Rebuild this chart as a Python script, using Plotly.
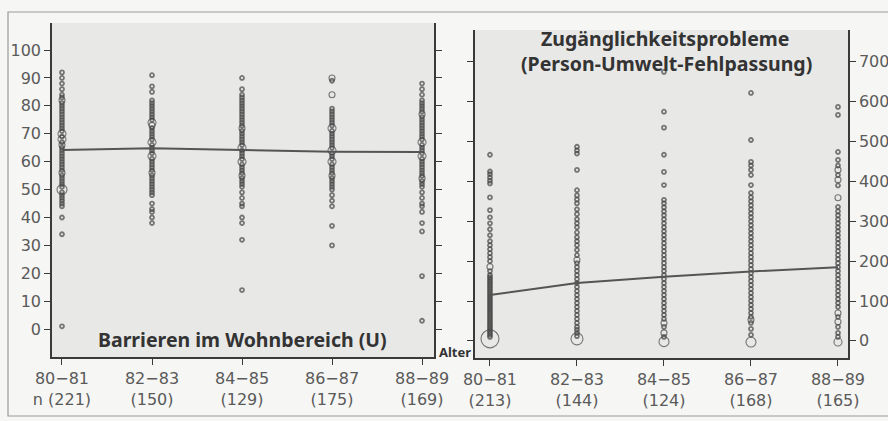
import plotly.graph_objects as go

W, H = 888, 421

# ---------------- data ----------------
categories = ["80−81", "82−83", "84−85", "86−87", "88−89"]
n_barrieren = ["n (221)", "(150)", "(129)", "(175)", "(169)"]
n_zugang = ["(213)", "(144)", "(124)", "(168)", "(165)"]

mean_barrieren = [64.2, 64.8, 64.2, 63.6, 63.5]
mean_zugang = [115, 145, 161, 174, 185]

# Barrieren im Wohnbereich (U): single observations per age group
barr_80_81 = [92, 90, 88, 86, 84, 83, 82, 81, 80, 79, 78, 77, 76, 75, 74, 73, 72, 71, 70, 69, 68, 67, 66,
              65, 64, 63, 62, 61, 60, 59, 58, 57, 56, 55, 54, 53, 52, 51, 50, 49, 48, 47, 46, 45, 44, 40, 34, 1]
barr_82_83 = [91, 87, 85, 82, 81, 80, 79, 78, 77, 76, 75, 74, 73, 72, 71, 70, 69, 68, 67, 66, 65, 64, 63,
              62, 61, 60, 59, 58, 57, 56, 55, 54, 53, 52, 51, 50, 49, 48, 45, 43, 42, 40, 38]
barr_84_85 = [90, 86, 84, 83, 82, 81, 80, 79, 78, 77, 76, 75, 74, 73, 72, 71, 70, 69, 68, 67, 66, 65, 64,
              63, 62, 61, 60, 59, 58, 57, 56, 55, 54, 53, 52, 51, 49, 47, 45, 44, 40, 38, 32, 14]
barr_86_87 = [90, 89, 84, 79, 78, 77, 76, 75, 74, 73, 72, 71, 70, 69, 68, 67, 66, 65, 64, 63, 62, 61, 60,
              59, 58, 57, 56, 55, 54, 53, 52, 51, 50, 48, 46, 44, 37, 30]
barr_88_89 = [88, 86, 84, 82, 81, 80, 79, 78, 77, 76, 75, 74, 73, 72, 71, 70, 69, 68, 67, 66, 65, 64, 63,
              62, 61, 60, 59, 58, 57, 56, 55, 54, 53, 52, 51, 49, 47, 45, 44, 42, 38, 35, 19, 3]
# (value, frequency) for the larger circles
barr_80_81_freq = [(82, 2), (70, 3), (68, 3), (66, 2), (56, 2), (50, 4)]
barr_82_83_freq = [(74, 3), (73, 2), (67, 3), (62, 3), (56, 2)]
barr_84_85_freq = [(72, 2), (65, 3), (60, 3), (55, 2)]
barr_86_87_freq = [(90, 2), (84, 2), (72, 3), (64, 3), (60, 3), (55, 2)]
barr_88_89_freq = [(77, 2), (67, 3), (62, 3), (54, 2)]

# Zugänglichkeitsprobleme (Person-Umwelt-Fehlpassung)
zug_80_81 = [467, 425, 418, 410, 402, 395, 360, 328, 310, 295, 280, 265, 250, 240, 230, 220, 210, 200, 186,
             175, 165, 160, 155, 150, 145, 140, 135, 130, 125, 120, 115, 110, 105, 100, 95, 90, 85, 80, 75,
             70, 65, 60, 55, 50, 45, 40, 35, 30, 25, 20, 15, 10, 5]
zug_82_83 = [487, 478, 470, 429, 378, 365, 355, 345, 330, 318, 305, 295, 285, 272, 260, 250, 240, 228, 215,
             203, 195, 185, 175, 165, 155, 145, 135, 125, 115, 105, 95, 85, 75, 65, 55, 45, 35, 28, 20, 12]
zug_84_85 = [675, 575, 535, 467, 424, 391, 354, 345, 335, 325, 315, 305, 295, 285, 275, 265, 255, 245, 235,
             225, 215, 205, 195, 185, 175, 165, 155, 145, 135, 125, 115, 105, 95, 85, 75, 65, 55, 45, 35,
             20, 10]
zug_86_87 = [622, 504, 449, 440, 429, 416, 391, 371, 360, 350, 340, 330, 320, 310, 300, 290, 280, 270, 260,
             250, 240, 230, 220, 210, 200, 190, 180, 170, 160, 150, 140, 130, 120, 110, 100, 90, 80, 70, 60,
             53, 45, 30, 15]
zug_88_89 = [587, 567, 474, 454, 440, 429, 416, 404, 390, 359, 336, 325, 315, 305, 295, 285, 275, 265, 255,
             245, 235, 225, 215, 205, 195, 185, 175, 165, 155, 145, 135, 125, 115, 105, 95, 85, 70, 60, 48,
             35, 20, 10]
zug_80_81_freq = [(186, 2), (5, 8)]
zug_82_83_freq = [(203, 2), (5, 5)]
zug_84_85_freq = [(45, 2), (20, 2), (-2, 4)]
zug_86_87_freq = [(53, 2), (-3, 4)]
zug_88_89_freq = [(429, 2), (404, 2), (359, 2), (70, 2), (48, 2), (-3, 3)]

barr_cols = [barr_80_81, barr_82_83, barr_84_85, barr_86_87, barr_88_89]
barr_freqs = [barr_80_81_freq, barr_82_83_freq, barr_84_85_freq, barr_86_87_freq, barr_88_89_freq]
zug_cols = [zug_80_81, zug_82_83, zug_84_85, zug_86_87, zug_88_89]
zug_freqs = [zug_80_81_freq, zug_82_83_freq, zug_84_85_freq, zug_86_87_freq, zug_88_89_freq]

# ---------------- styling helpers ----------------
INK = "#444444"
TXT = "#5a5a5a"
TICKFONT = "DejaVu Sans"
TITLEFONT = "Noto Sans"


def size_of(count):
    return 4 + 2.0 * (count - 1)


def px_x(p):
    return p / W


def px_y(p):
    return 1 - p / H


fig = go.Figure()


def add_panel(cols, freqs, means, xa, ya):
    for i, (vals, fq) in enumerate(zip(cols, freqs)):
        fmap = dict(fq)
        allv = list(vals) + [v for v, _ in fq if v not in vals]
        xs = [i] * len(allv)
        sizes = [size_of(fmap.get(v, 1)) for v in allv]
        widths = [1.8 if fmap.get(v, 1) == 1 else 1.1 for v in allv]
        fig.add_trace(go.Scatter(
            x=xs, y=allv, mode="markers", xaxis=xa, yaxis=ya, showlegend=False,
            marker=dict(symbol="circle-open", size=sizes, color=INK,
                        line=dict(width=widths, color=INK)),
        ))
    fig.add_trace(go.Scatter(
        x=list(range(len(means))), y=means, mode="lines", xaxis=xa, yaxis=ya,
        showlegend=False, line=dict(color="#555555", width=2),
    ))


add_panel(barr_cols, barr_freqs, mean_barrieren, "x", "y")
add_panel(zug_cols, zug_freqs, mean_zugang, "x2", "y2")

axis_common = dict(showline=True, linecolor="#3a3a3a", linewidth=1.5, ticks="outside",
                   tickcolor="#3a3a3a", ticklen=6, tickwidth=1, showgrid=False, zeroline=False,
                   automargin=False,
                   tickfont=dict(family=TICKFONT, size=16, color=TXT))

fig.update_layout(
    width=W, height=H,
    autosize=False,
    margin=dict(l=0, r=0, t=0, b=0, pad=0),
    paper_bgcolor="#f6f6f4",
    plot_bgcolor="#e8e8e7",
    xaxis=dict(domain=[px_x(52), px_x(434)], anchor="y", range=[-0.111, 4.133],
               tickmode="array", tickvals=list(range(5)),
               ticktext=[f"{c}<br>{n}" for c, n in zip(categories, n_barrieren)], **axis_common),
    yaxis=dict(domain=[px_y(357), px_y(23)], anchor="x", range=[-10, 109.7],
               tickmode="array", tickvals=list(range(0, 101, 10)), mirror="ticks", **axis_common),
    xaxis2=dict(domain=[px_x(475), px_x(848)], anchor="y2", range=[-0.172, 4.115],
                tickmode="array", tickvals=list(range(5)),
                ticktext=[f"{c}<br>{n}" for c, n in zip(categories, n_zugang)], **axis_common),
    yaxis2=dict(domain=[px_y(358), px_y(30)], anchor="x2", side="right", range=[-43, 780],
                tickmode="array", tickvals=list(range(0, 701, 100)), mirror="ticks", **axis_common),
)

title_font = dict(family=TITLEFONT, size=19.5, color="#333333")
fig.add_annotation(text="<b>Barrieren im Wohnbereich (U)</b>", xref="paper", yref="paper",
                   x=px_x(243), y=px_y(339), xanchor="center", yanchor="middle",
                   showarrow=False, font=title_font)
fig.add_annotation(text="<b>Zugänglichkeitsprobleme</b>", xref="paper", yref="paper",
                   x=px_x(665), y=px_y(39), xanchor="center", yanchor="middle",
                   showarrow=False, font=title_font)
fig.add_annotation(text="<b>(Person-Umwelt-Fehlpassung)</b>", xref="paper", yref="paper",
                   x=px_x(666), y=px_y(63), xanchor="center", yanchor="middle",
                   showarrow=False, font=title_font)
fig.add_annotation(text="<b>Alter</b>", xref="paper", yref="paper",
                   x=px_x(455), y=px_y(352), xanchor="center", yanchor="middle",
                   showarrow=False, font=dict(family=TITLEFONT, size=13, color="#333333"))

# outer frame of the printed figure
fig.add_shape(type="rect", xref="paper", yref="paper",
              x0=px_x(8), y0=px_y(416), x1=px_x(893), y1=px_y(12),
              line=dict(color="#9a9a9a", width=1.2), fillcolor="rgba(0,0,0,0)", layer="below")

fig.write_html("out.html", config={"responsive": False, "displayModeBar": False},
               post_script="document.body.style.margin='0';document.body.style.overflow='hidden';")
